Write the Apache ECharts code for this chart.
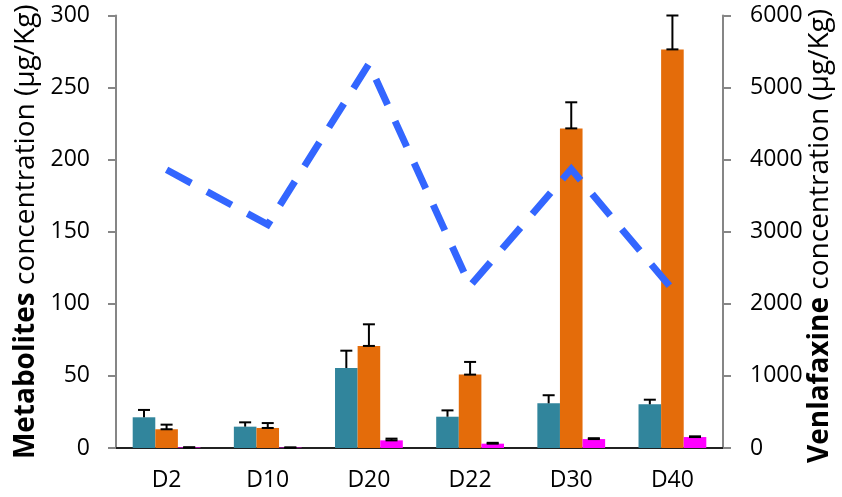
<!DOCTYPE html>
<html>
<head>
<meta charset="utf-8">
<script src="https://cdn.jsdelivr.net/npm/echarts@6/dist/echarts.min.js"></script>
<style>
  html, body { margin: 0; padding: 0; background: #ffffff; }
  #chart { width: 842px; height: 497px; }
</style>
</head>
<body>
<div id="chart"></div>
<script>
// 数据
const categories = ['D2', 'D10', 'D20', 'D22', 'D30', 'D40']
const metA = [21.3, 14.8, 55.5, 21.7, 31.0, 30.3] // 青色
const errA = [5.1, 3.0, 12.0, 4.4, 5.6, 3.2]
const metB = [13.0, 13.9, 70.8, 50.9, 221.7, 276.5] // 橙色
const errB = [3.2, 3.4, 15.0, 8.8, 18.1, 23.5]
const metC = [0.4, 0.3, 5.3, 3.0, 6.2, 7.6] // 品红
const errC = [0, 0, 1.2, 0.6, 0.6, 0.5]
const venlafaxine = [3860, 3100, 5330, 2250, 3870, 2200] // 右轴
const leftTicks = { min: 0, max: 300, interval: 50 }
const rightTicks = { min: 0, max: 6000, interval: 1000 }

const FONT = 'Open Sans'
const GRAY = '#868686'

// 误差线
const errRender = (k, withBase) => (params, api) => {
  const i = api.value(0)
  const v = api.value(1)
  const e = api.value(2)
  const bw = api.size([1, 0])[0] * 0.67 / 3
  const x = api.coord([i, 0])[0] + (k - 1) * bw
  const top = api.coord([i, v + e])[1]
  const bot = api.coord([i, v])[1]
  const st = { stroke: '#000', lineWidth: 2 }
  const kids = [
    { type: 'line', shape: { x1: x, y1: bot, x2: x, y2: top }, style: st },
    { type: 'line', shape: { x1: x - 6, y1: top, x2: x + 6, y2: top }, style: st }
  ]
  if (withBase) kids.push({ type: 'line', shape: { x1: x - 6, y1: bot, x2: x + 6, y2: bot }, style: st })
  return { type: 'group', children: kids }
}

const errData = (vals, errs) => vals.map((v, i) => [i, v, errs[i]])

const barSeries = (name, data, color) => ({
  name,
  type: 'bar',
  data,
  barGap: '0%',
  barCategoryGap: '33%',
  itemStyle: { color },
  z: 2
})

const errSeries = (k, vals, errs, withBase) => ({
  type: 'custom',
  data: errData(vals, errs),
  renderItem: errRender(k, withBase),
  encode: { x: 0, y: 1 },
  silent: true,
  z: 4
})

const myChart = echarts.init(document.getElementById('chart'))

const options = {
  animation: false,
  textStyle: { fontFamily: FONT },
  grid: { left: 116, right: 119, top: 15.5, bottom: 49, outerBoundsMode: 'none', containLabel: false },
  xAxis: [
    {
      type: 'category',
      data: categories,
      axisLine: { lineStyle: { color: GRAY, width: 2 } },
      axisTick: { length: 7, lineStyle: { color: GRAY, width: 2 } },
      axisLabel: { color: '#000', fontSize: 23, fontFamily: FONT, margin: 21 }
    },
    {
      type: 'category',
      data: categories,
      position: 'top',
      axisLine: { lineStyle: { color: '#000', width: 1.5 } },
      axisTick: { show: false },
      axisLabel: { show: false }
    }
  ],
  yAxis: [
    {
      type: 'value',
      ...leftTicks,
      name: '{b|Metabolites} concentration (µg/Kg)',
      nameLocation: 'middle',
      nameRotate: 90,
      nameGap: 64,
      nameTextStyle: {
        color: '#000', fontSize: 28, fontFamily: FONT,
        rich: { b: { fontWeight: 'bold', fontSize: 28, fontFamily: FONT, color: '#000' } }
      },
      axisLine: { show: true, lineStyle: { color: GRAY, width: 2 } },
      axisTick: { show: true, length: 8, lineStyle: { color: GRAY, width: 2 } },
      axisLabel: { color: '#000', fontSize: 23, fontFamily: FONT, margin: 26 },
      splitLine: { show: false }
    },
    {
      type: 'value',
      ...rightTicks,
      position: 'right',
      axisLine: { show: true, lineStyle: { color: GRAY, width: 2 } },
      axisTick: { show: true, length: 8, lineStyle: { color: GRAY, width: 2 } },
      axisLabel: { color: '#000', fontSize: 23, fontFamily: FONT, margin: 27, formatter: (v) => String(v) },
      splitLine: { show: false }
    }
  ],
  graphic: [
    {
      type: 'text',
      x: 820,
      y: 236,
      rotation: Math.PI / 2,
      style: {
        text: '{b|Venlafaxine} concentration (µg/Kg)',
        fontSize: 28,
        fontFamily: FONT,
        fill: '#000',
        align: 'center',
        verticalAlign: 'middle',
        rich: { b: { fontWeight: 'bold', fontSize: 28, fontFamily: FONT, fill: '#000' } }
      }
    }
  ],
  series: [
    barSeries('A', metA, '#31859C'),
    barSeries('B', metB, '#E46C0A'),
    barSeries('C', metC, '#FF00FF'),
    errSeries(0, metA, errA, false),
    errSeries(1, metB, errB, true),
    errSeries(2, metC, errC, true),
    {
      name: 'Venlafaxine',
      type: 'line',
      yAxisIndex: 1,
      data: venlafaxine,
      symbol: 'none',
      lineStyle: { color: '#3366FF', width: 7, type: [28, 18], cap: 'butt', join: 'miter' },
      z: 5
    }
  ]
}
myChart.setOption(options)
</script>
</body>
</html>
